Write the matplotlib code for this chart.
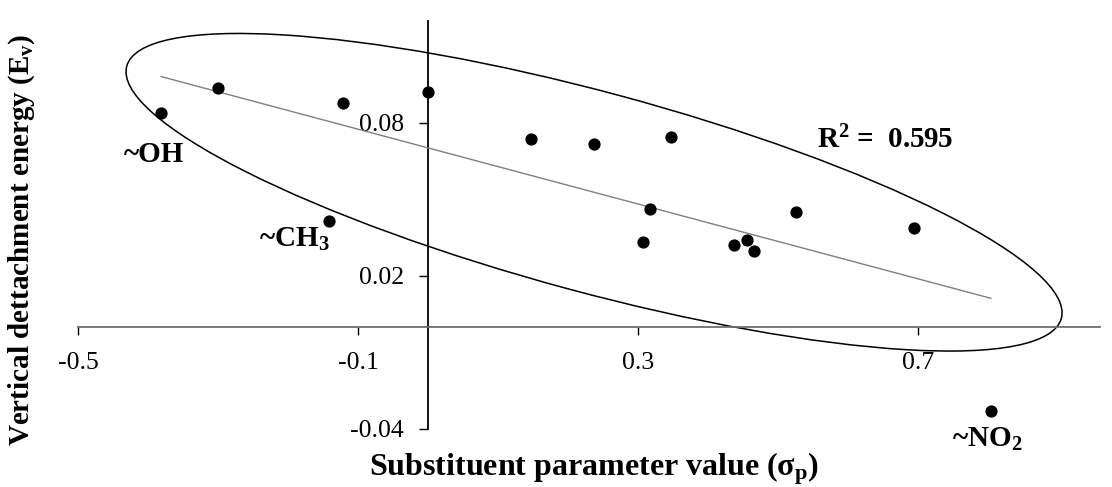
import numpy as np
import matplotlib
matplotlib.use('Agg')
import matplotlib.pyplot as plt
from matplotlib.patches import Ellipse
from matplotlib.transforms import ScaledTranslation

# Data
sigma_p = [-0.381, -0.300, -0.121, -0.141, 0.000, 0.147, 0.237, 0.347,
           0.317, 0.307, 0.437, 0.456, 0.466, 0.526, 0.695, 0.804]
energy = [0.0838, 0.0936, 0.0877, 0.0416, 0.0923, 0.0737, 0.0718, 0.0746,
          0.0463, 0.0333, 0.0320, 0.0342, 0.0297, 0.0450, 0.0387, -0.0329]

label_idx = [0, 3, 15]
label_text = ['~OH', '~CH$_\\mathbf{3}$', '~NO$_\\mathbf{2}$']

x_ticks = [-0.5, -0.1, 0.3, 0.7]
x_tick_labels = ['-0.5', '-0.1', '0.3', '0.7']
y_ticks = [-0.04, 0.02, 0.08]
y_tick_labels = ['-0.04', '0.02', '0.08']

r2_text = 'R$^\\mathbf{2}$ =  0.595'

plt.rcParams['font.family'] = 'Liberation Serif'
plt.rcParams['mathtext.fontset'] = 'custom'
plt.rcParams['mathtext.rm'] = 'Liberation Serif'
plt.rcParams['mathtext.bf'] = 'Liberation Serif:bold'
plt.rcParams['mathtext.it'] = 'Liberation Serif:italic'

fig = plt.figure(figsize=(11.12, 4.87), dpi=100)
ax = fig.add_axes([0.0701, 0.1191, 0.9191, 0.8378])

x = np.array(sigma_p)
y = np.array(energy)

# points
ax.plot(x, y, 'o', color='black', ms=7.8, zorder=4)

# linear trend line
slope, intercept = np.polyfit(x, y, 1)
xs = np.array([x.min(), x.max()])
ax.plot(xs, slope * xs + intercept, color='#808080', lw=1.0, zorder=3)

# hand drawn ellipse round the points
ell = Ellipse((0, 0), 9.68, 2.0, angle=-15.1, fill=False, ec='black', lw=1.1,
              transform=fig.dpi_scale_trans + ScaledTranslation(x.mean(), y.mean(), ax.transData),
              clip_on=False, zorder=2)
ax.add_patch(ell)

# point labels
offsets = [(-37, -49), (-70, -26), (-39, -36)]
for i, txt, off in zip(label_idx, label_text, offsets):
    ax.annotate(txt, (x[i], y[i]), xytext=off, textcoords='offset pixels',
                fontsize=21, fontweight='bold', ha='left', va='baseline')

ax.text(0.723, 0.689, r2_text, transform=ax.transAxes, fontsize=21,
        fontweight='bold', va='baseline', ha='left')

ax.set_xlim(-0.5, 0.96)
ax.set_ylim(-0.04, 0.12)

ax.spines['left'].set_position(('data', 0))
ax.spines['bottom'].set_position(('data', 0))
ax.spines['right'].set_visible(False)
ax.spines['top'].set_visible(False)
ax.spines['left'].set_linewidth(1.3)
ax.spines['bottom'].set_linewidth(1.3)
ax.spines['bottom'].set_color('#6e6e6e')

ax.set_xticks(x_ticks)
ax.set_xticklabels(x_tick_labels)
ax.set_yticks(y_ticks)
ax.set_yticklabels(y_tick_labels)
ax.tick_params(axis='x', direction='out', length=6, width=1, pad=12, labelsize=18.5)
ax.tick_params(axis='y', direction='out', length=6.5, width=1, pad=11, labelsize=18.5)

ax.set_xlabel('Substituent parameter value (σ$_\\mathbf{p}$)', fontsize=23, fontweight='bold')
ax.xaxis.label.set_va('baseline')
ax.xaxis.set_label_coords(0.505, -0.115)

ax.set_ylabel('Vertical dettachment energy (E$_\\mathbf{v}$)', fontsize=21, fontweight='bold')
ax.yaxis.label.set_va('center')
ax.yaxis.set_label_coords(-0.0548, 0.463)

fig.savefig('out.png', dpi=100)
